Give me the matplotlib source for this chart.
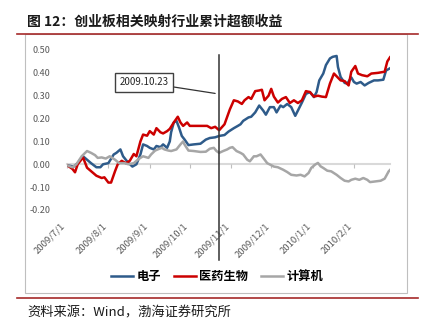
"""Cumulative excess return of sectors mapped to ChiNext."""
import matplotlib

matplotlib.use("Agg")
import matplotlib.dates as mdates
import matplotlib.pyplot as plt
import pandas as pd
from matplotlib.lines import Line2D
from matplotlib.patches import Rectangle
from matplotlib.ticker import FuncFormatter

plt.rcParams["font.family"] = ["Noto Sans CJK SC", "DejaVu Sans"]
plt.rcParams["axes.unicode_minus"] = False

# 电子
elec_dates = [
    "2009-07-01", "2009-07-06", "2009-07-09", "2009-07-13", "2009-07-16", "2009-07-19",
    "2009-07-23", "2009-07-26", "2009-07-28", "2009-08-01", "2009-08-05", "2009-08-07",
    "2009-08-10", "2009-08-12", "2009-08-15", "2009-08-17", "2009-08-19", "2009-08-22",
    "2009-08-25", "2009-08-27", "2009-08-30", "2009-09-01", "2009-09-04", "2009-09-06",
    "2009-09-09", "2009-09-11", "2009-09-14", "2009-09-16", "2009-09-17", "2009-09-19",
    "2009-09-21", "2009-09-23", "2009-09-25", "2009-09-27", "2009-09-30", "2009-10-04",
    "2009-10-09", "2009-10-13", "2009-10-16", "2009-10-20", "2009-10-23", "2009-10-27",
    "2009-10-30", "2009-11-03", "2009-11-06", "2009-11-08", "2009-11-10", "2009-11-14",
    "2009-11-16", "2009-11-19", "2009-11-22", "2009-11-25", "2009-11-27", "2009-11-30",
    "2009-12-03", "2009-12-05", "2009-12-08", "2009-12-10", "2009-12-13", "2009-12-16",
    "2009-12-19", "2009-12-21", "2009-12-24", "2009-12-27", "2009-12-30", "2010-01-02",
    "2010-01-04", "2010-01-06", "2010-01-09", "2010-01-11", "2010-01-14", "2010-01-16",
    "2010-01-19", "2010-01-20", "2010-01-22", "2010-01-25", "2010-01-27", "2010-01-30",
    "2010-02-01", "2010-02-03", "2010-02-06", "2010-02-09", "2010-02-12", "2010-02-16",
    "2010-02-19", "2010-02-23", "2010-02-25", "2010-02-28",
]
elec_vals = [
    -0.004, -0.010, 0.005, 0.035, 0.020, 0.005,
    -0.013, -0.013, 0.000, 0.005, 0.043, 0.050,
    0.065, 0.035, 0.013, 0.001, -0.010, 0.000,
    0.043, 0.087, 0.080, 0.072, 0.065, 0.080,
    0.075, 0.087, 0.072, 0.100, 0.140, 0.183,
    0.190, 0.160, 0.124, 0.109, 0.084, 0.087,
    0.090, 0.108, 0.115, 0.118, 0.124, 0.128,
    0.143, 0.158, 0.168, 0.175, 0.190, 0.205,
    0.208, 0.227, 0.257, 0.235, 0.217, 0.250,
    0.250, 0.227, 0.257, 0.250, 0.264, 0.250,
    0.212, 0.235, 0.270, 0.308, 0.316, 0.294,
    0.316, 0.367, 0.397, 0.434, 0.463, 0.470,
    0.474, 0.426, 0.382, 0.356, 0.353, 0.380,
    0.360, 0.353, 0.360, 0.345, 0.356, 0.367,
    0.367, 0.370, 0.410, 0.420,
]

# 医药生物
pharma_dates = [
    "2009-07-01", "2009-07-05", "2009-07-07", "2009-07-09", "2009-07-13", "2009-07-16",
    "2009-07-19", "2009-07-23", "2009-07-27", "2009-07-29", "2009-08-01", "2009-08-03",
    "2009-08-06", "2009-08-08", "2009-08-11", "2009-08-14", "2009-08-17", "2009-08-20",
    "2009-08-22", "2009-08-25", "2009-08-27", "2009-08-30", "2009-09-01", "2009-09-04",
    "2009-09-06", "2009-09-09", "2009-09-11", "2009-09-14", "2009-09-16", "2009-09-19",
    "2009-09-22", "2009-09-24", "2009-09-26", "2009-09-29", "2009-10-01", "2009-10-06",
    "2009-10-14", "2009-10-17", "2009-10-20", "2009-10-23", "2009-10-27", "2009-10-31",
    "2009-11-03", "2009-11-06", "2009-11-09", "2009-11-11", "2009-11-14", "2009-11-16",
    "2009-11-19", "2009-11-22", "2009-11-24", "2009-11-26", "2009-11-29", "2009-12-01",
    "2009-12-03", "2009-12-06", "2009-12-09", "2009-12-12", "2009-12-15", "2009-12-18",
    "2009-12-21", "2009-12-24", "2009-12-27", "2009-12-30", "2010-01-02", "2010-01-05",
    "2010-01-08", "2010-01-11", "2010-01-14", "2010-01-17", "2010-01-19", "2010-01-22",
    "2010-01-25", "2010-01-28", "2010-01-30", "2010-02-02", "2010-02-04", "2010-02-07",
    "2010-02-11", "2010-02-14", "2010-02-19", "2010-02-24", "2010-02-26", "2010-02-28",
]
pharma_vals = [
    -0.004, -0.020, -0.035, 0.000, 0.030, -0.015,
    -0.030, -0.050, -0.060, -0.057, -0.080, -0.080,
    -0.030, 0.000, 0.015, 0.005, 0.015, 0.045,
    0.035, 0.100, 0.130, 0.125, 0.145, 0.130,
    0.158, 0.140, 0.135, 0.145, 0.155, 0.183,
    0.208, 0.183, 0.168, 0.183, 0.168, 0.168,
    0.168, 0.158, 0.164, 0.149, 0.175, 0.240,
    0.280, 0.275, 0.264, 0.280, 0.294, 0.286,
    0.320, 0.323, 0.326, 0.280, 0.300, 0.330,
    0.296, 0.270, 0.286, 0.294, 0.268, 0.280,
    0.268, 0.280, 0.320, 0.316, 0.296, 0.300,
    0.296, 0.294, 0.353, 0.397, 0.385, 0.367,
    0.364, 0.345, 0.405, 0.430, 0.397, 0.390,
    0.385, 0.397, 0.400, 0.405, 0.450, 0.468,
]

# 计算机
comp_dates = [
    "2009-07-01", "2009-07-05", "2009-07-08", "2009-07-12", "2009-07-16", "2009-07-19",
    "2009-07-22", "2009-07-24", "2009-07-27", "2009-07-30", "2009-08-02", "2009-08-06",
    "2009-08-09", "2009-08-13", "2009-08-16", "2009-08-20", "2009-08-23", "2009-08-25",
    "2009-08-27", "2009-08-31", "2009-09-02", "2009-09-05", "2009-09-07", "2009-09-10",
    "2009-09-12", "2009-09-15", "2009-09-17", "2009-09-21", "2009-09-24", "2009-09-26",
    "2009-09-27", "2009-09-30", "2009-10-04", "2009-10-09", "2009-10-13", "2009-10-16",
    "2009-10-19", "2009-10-21", "2009-10-23", "2009-10-26", "2009-10-29", "2009-10-31",
    "2009-11-02", "2009-11-05", "2009-11-08", "2009-11-10", "2009-11-13", "2009-11-15",
    "2009-11-18", "2009-11-20", "2009-11-23", "2009-11-25", "2009-11-28", "2009-11-30",
    "2009-12-03", "2009-12-06", "2009-12-10", "2009-12-13", "2009-12-16", "2009-12-20",
    "2009-12-23", "2009-12-26", "2009-12-29", "2009-12-31", "2010-01-03", "2010-01-05",
    "2010-01-07", "2010-01-09", "2010-01-12", "2010-01-15", "2010-01-19", "2010-01-22",
    "2010-01-25", "2010-01-28", "2010-01-30", "2010-02-02", "2010-02-05", "2010-02-08",
    "2010-02-11", "2010-02-13", "2010-02-17", "2010-02-21", "2010-02-24", "2010-02-27",
    "2010-02-28",
]
comp_vals = [
    -0.004, -0.013, 0.000, 0.035, 0.058, 0.050,
    0.040, 0.028, 0.030, 0.025, 0.035, 0.020,
    0.005, 0.005, 0.000, 0.005, 0.020, 0.028,
    0.035, 0.028, 0.043, 0.060, 0.065, 0.072,
    0.065, 0.060, 0.058, 0.065, 0.087, 0.100,
    0.087, 0.060, 0.058, 0.054, 0.055, 0.068,
    0.072, 0.058, 0.050, 0.058, 0.065, 0.072,
    0.075, 0.058, 0.050, 0.043, 0.020, 0.013,
    0.035, 0.035, 0.043, 0.028, 0.005, -0.001,
    -0.010, -0.013, -0.024, -0.034, -0.046, -0.049,
    -0.046, -0.053, -0.038, -0.016, -0.001, 0.006,
    -0.009, -0.016, -0.028, -0.031, -0.046, -0.060,
    -0.072, -0.075, -0.068, -0.063, -0.068, -0.060,
    -0.068, -0.078, -0.075, -0.072, -0.063, -0.031,
    -0.025,
]

series = [
    ("电子", elec_dates, elec_vals, "#2E5B8A"),
    ("医药生物", pharma_dates, pharma_vals, "#CC0000"),
    ("计算机", comp_dates, comp_vals, "#A6A6A6"),
]

event_date = "2009-10-23"
event_label = "2009.10.23"
month_ticks = pd.date_range("2009-07-01", "2010-02-01", freq="MS")
y_ticks = [-0.2, -0.1, 0.0, 0.1, 0.2, 0.3, 0.4, 0.5]


def date_label(x, pos=None):
    d = mdates.num2date(x)
    return f"{d.year}/{d.month}/{d.day}"


fig = plt.figure(figsize=(4.29, 3.27), dpi=100)
ax = fig.add_axes([0.1562, 0.3578, 0.7529, 0.4893])

for name, dates, vals, color in series:
    ax.plot(pd.to_datetime(dates), vals, color=color, lw=1.8, label=name,
            solid_joinstyle="round")

ax.set_xlim(pd.Timestamp("2009-07-01"), pd.Timestamp("2010-02-28"))
ax.set_ylim(-0.2, 0.5)
ax.set_yticks(y_ticks)
ax.set_yticklabels([f"{v:.2f}" for v in y_ticks])
ax.set_xticks(mdates.date2num(month_ticks))
ax.xaxis.set_major_formatter(FuncFormatter(date_label))

for side in ("top", "right", "left"):
    ax.spines[side].set_visible(False)
ax.spines["bottom"].set_position(("data", 0))
ax.spines["bottom"].set_color("#D9D9D9")
ax.spines["bottom"].set_linewidth(1.5)
ax.spines["bottom"].set_zorder(0.5)

ax.tick_params(axis="y", length=0, pad=12, labelsize=6.5, labelcolor="#595959")
ax.tick_params(axis="x", direction="out", length=3, width=0.8, color="#BFBFBF",
               pad=38, labelsize=6.8, labelcolor="#595959", labelrotation=45)
for lbl in ax.get_xticklabels():
    lbl.set_ha("right")
    lbl.set_va("top")

# event marker
ev = pd.Timestamp(event_date)
ax.axvline(ev, ymin=-0.3125, ymax=0.969, color="#333333", lw=1.1, clip_on=False)
ax.annotate(event_label,
            xy=(mdates.date2num(pd.Timestamp("2009-10-20")), 0.31),
            xytext=(mdates.date2num(pd.Timestamp("2009-08-28")), 0.358),
            ha="center", va="center", fontsize=7, color="#262626",
            bbox=dict(boxstyle="square,pad=0.45", fc="white", ec="#404040", lw=1.0),
            arrowprops=dict(arrowstyle="-", color="#333333", lw=0.9,
                            shrinkA=0, shrinkB=0))

fig.legend(loc="center", bbox_to_anchor=(0.506, 0.153), ncol=3, frameon=False,
           handlelength=1.8, handletextpad=0.3, columnspacing=1.0,
           prop={"weight": "bold", "size": 8.8})

# page furniture
fig.patches.append(Rectangle((25 / 429, 1 - 293 / 327), 382 / 429, 259 / 327,
                             transform=fig.transFigure, fill=False,
                             ec="#BFBFBF", lw=0.8))
for yy in (1 - 34 / 327, 1 - 298 / 327):
    fig.lines.append(Line2D([17 / 429, 418 / 429], [yy, yy],
                            transform=fig.transFigure, color="#A52A2A", lw=1.2))

fig.text(27 / 429, 1 - 22 / 327, "图 12：创业板相关映射行业累计超额收益",
         fontsize=10, fontweight="bold", va="center", ha="left", color="#1A1A1A")
fig.text(27 / 429, 1 - 313 / 327, "资料来源：Wind，渤海证券研究所",
         fontsize=9.5, va="center", ha="left", color="#1A1A1A")

fig.savefig("out.png", dpi=100)
